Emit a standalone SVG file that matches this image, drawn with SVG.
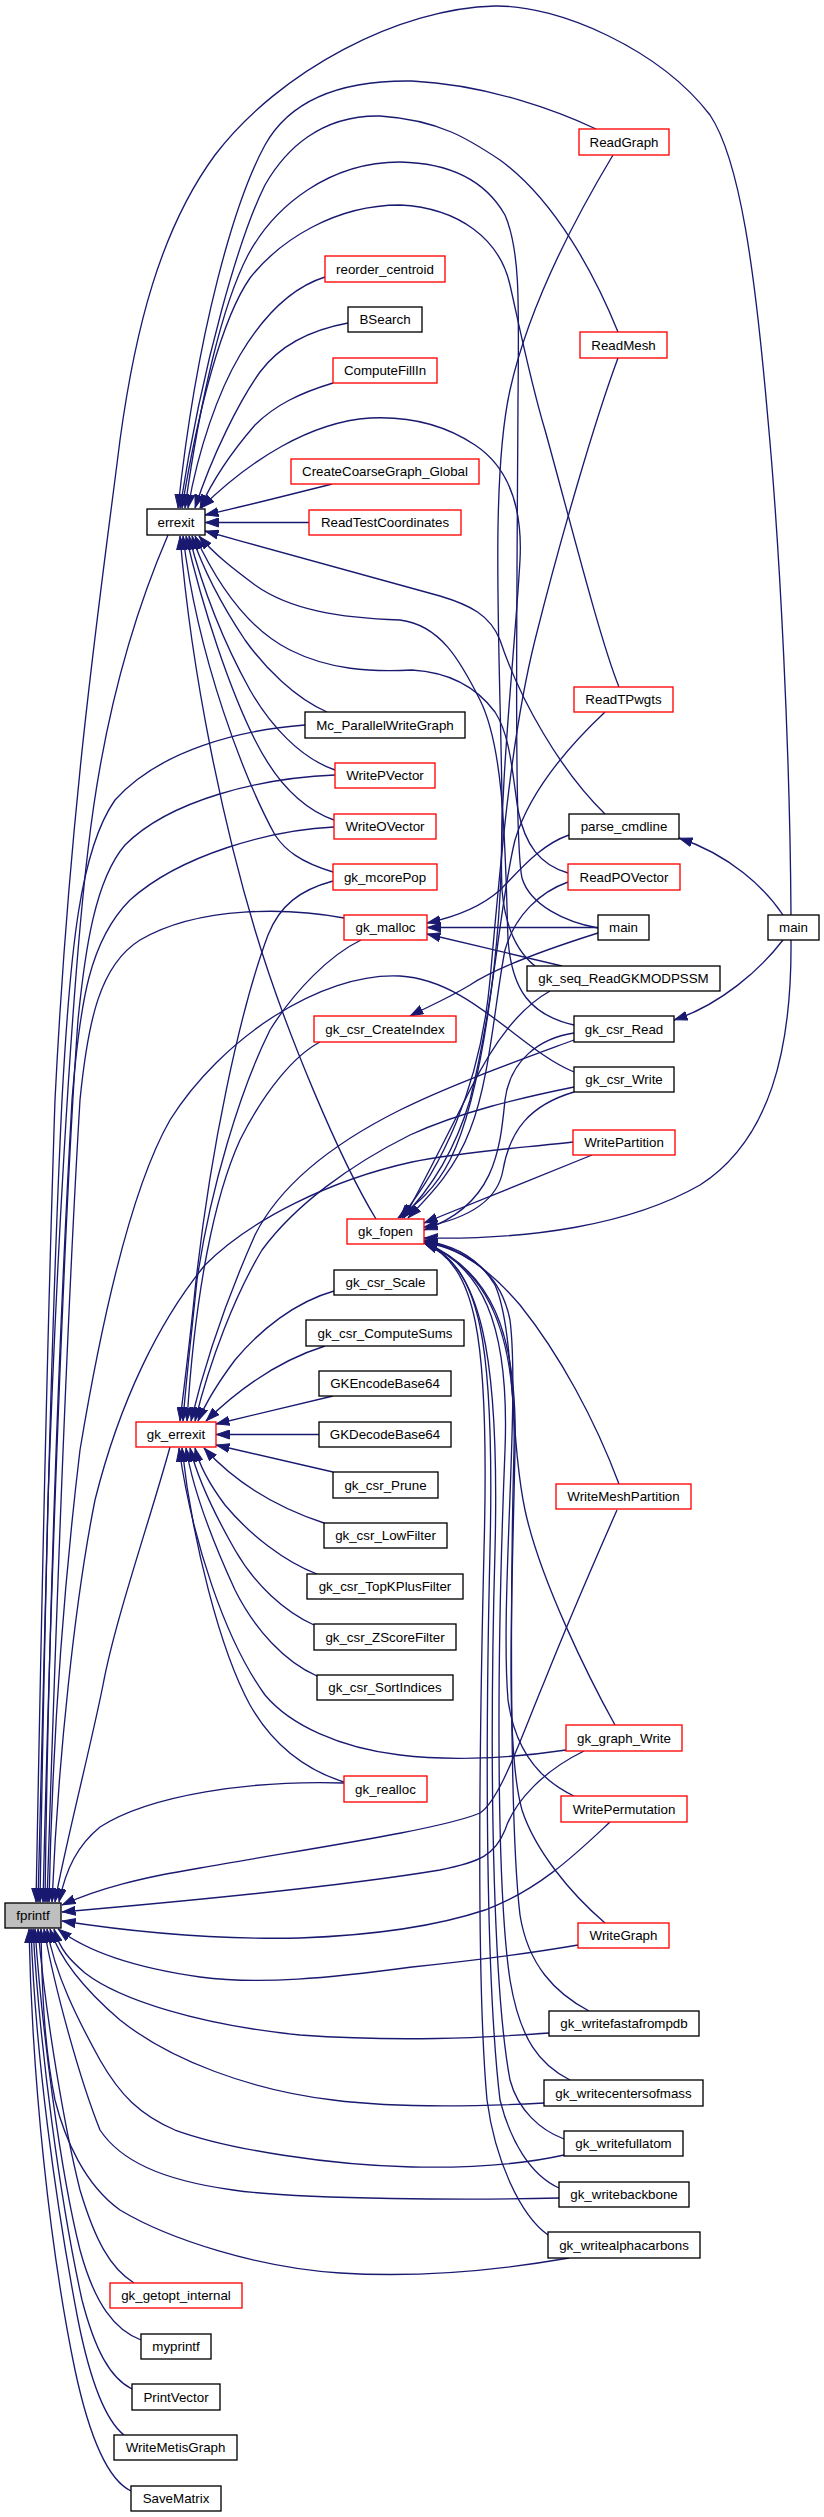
<svg xmlns="http://www.w3.org/2000/svg" width="824" height="2517" viewBox="0 0 824 2517">
<style>
.n rect{fill:#fff;stroke:#000;stroke-width:1.33}
.n.r rect{stroke:#f00}
.n text{font-family:"Liberation Sans",Arial,Helvetica,sans-serif;font-size:13.33px;text-anchor:middle;fill:#000}
#edges path{fill:none;stroke:#191970;stroke-width:1.33;marker-end:url(#arr)}
</style>
<defs>
<marker id="arr" viewBox="0 0 14 10" markerWidth="14" markerHeight="10" refX="13.5" refY="5" orient="auto" markerUnits="userSpaceOnUse">
<path d="M0,0.5 L13,5 L0,9.5 z" fill="#191970" stroke="#191970" stroke-width="1"/>
</marker>
</defs>
<rect width="824" height="2517" fill="#fff"/>
<g id="edges">
<path d="M309,522.5 L205,522.5"/>
<path d="M332,484 C300,492 250,505 205,515"/>
<path d="M333,383 C300,393 275,405 255,425 C235,448 215,475 200,508"/>
<path d="M348,323 C310,330 280,345 260,372 C240,400 212,455 195,508"/>
<path d="M325,277 C290,288 262,318 240,355 C218,392 198,450 188,508"/>
<path d="M619,687 C600,640 570,520 545,430 C530,380 518,320 510,285 C500,240 460,208 400,205 C335,205 280,240 250,278 C222,318 198,410 182,508"/>
<path d="M596,129 C560,112 490,85 412,81 C340,80 290,100 265,145 C235,200 197,330 178,508"/>
<path d="M618,332 C595,275 555,200 500,160 C470,140 440,120 380,116 C320,115 285,150 265,185 C240,235 203,360 180,508"/>
<path d="M598,928 C565,922 530,905 522,878 C514,840 517,600 518,400 C519,300 520,250 505,215 C485,180 450,163 400,162 C330,162 275,205 248,255 C222,305 200,400 185,508"/>
<path d="M535,966 C515,950 505,925 502,890 C498,800 515,650 520,560 C523,500 505,465 475,445 C445,425 410,416 370,418 C310,422 250,460 201,508"/>
<path d="M605,814 C560,770 520,700 500,640 C490,615 470,605 440,596 C380,580 290,555 205,531"/>
<path d="M574,1025 C530,1015 512,990 508,940 C505,850 505,750 480,700 C460,660 440,625 400,620 C340,618 290,610 255,585 C235,570 215,555 199,536"/>
<path d="M568,873 C540,865 525,845 518,810 C512,770 510,735 495,712 C475,685 445,672 412,670 C370,672 330,670 290,650 C250,630 220,590 195,536"/>
<path d="M327,712 C295,698 265,668 245,640 C225,610 205,575 192,536"/>
<path d="M335,770 C300,758 270,725 250,690 C225,645 203,590 189,536"/>
<path d="M334,820 C300,808 275,780 255,740 C230,690 203,610 186,536"/>
<path d="M333,872 C300,862 285,850 275,835 C245,780 198,660 183,536"/>
<path d="M376,1219 C340,1160 285,1030 255,930 C225,830 192,680 180,536"/>
<path d="M168,535 C140,600 105,700 88,850 C70,1000 55,1300 48,1500 C43,1650 40,1800 38,1902"/>
<path d="M791,915 C790,750 780,550 768,420 C755,270 740,160 710,115 C660,50 560,5 495,6 C400,8 280,70 215,155 C160,230 135,330 120,440 C100,600 70,800 55,1100 C45,1400 40,1700 36,1902"/>
<path d="M305,725 C240,730 160,750 115,800 C80,850 70,950 62,1100 C50,1350 44,1650 40,1902"/>
<path d="M335,775 C260,778 170,800 125,845 C95,880 85,950 78,1020 C65,1200 50,1600 43,1902"/>
<path d="M334,827 C270,830 180,855 130,900 C90,940 80,1000 72,1100 C58,1350 48,1650 45,1902"/>
<path d="M344,918 C290,908 200,905 140,940 C100,965 88,1020 80,1100 C68,1300 55,1650 47,1902"/>
<path d="M574,1072 C520,1050 470,980 400,976 C320,972 220,1040 170,1120 C130,1190 100,1330 80,1450 C62,1600 52,1760 49,1902"/>
<path d="M573,1142 C520,1148 460,1152 412,1162 C330,1180 250,1220 205,1265 C160,1320 120,1400 95,1500 C75,1600 58,1760 52,1902"/>
<path d="M170,1447 C150,1520 115,1620 103,1685 C90,1750 64,1850 55,1902"/>
<path d="M344,1783 C250,1780 150,1795 100,1827 C78,1845 66,1868 59,1902"/>
<path d="M617,1510 C595,1560 565,1630 545,1680 C520,1740 500,1800 480,1813 C440,1830 300,1850 200,1868 C140,1878 100,1888 62,1905"/>
<path d="M584,1751 C545,1770 515,1800 505,1830 C495,1855 480,1862 440,1870 C350,1885 200,1900 62,1912"/>
<path d="M610,1822 C580,1850 540,1890 485,1910 C440,1925 380,1935 300,1938 C200,1940 120,1930 62,1921"/>
<path d="M578,1945 C520,1955 460,1962 412,1967 C330,1978 260,1985 200,1977 C130,1967 85,1950 58,1929"/>
<path d="M549,2033 C480,2038 400,2042 300,2035 C200,2025 120,2000 85,1973 C70,1960 60,1950 54,1929"/>
<path d="M544,2103 C450,2108 380,2106 333,2100 C250,2090 170,2060 120,2020 C85,1990 60,1960 50,1929"/>
<path d="M564,2155 C520,2165 470,2168 412,2167 C330,2165 230,2150 175,2130 C140,2115 120,2095 100,2060 C78,2020 55,1975 47,1929"/>
<path d="M559,2198 C480,2200 300,2200 233,2190 C160,2180 120,2160 100,2130 C80,2080 55,1990 44,1929"/>
<path d="M569,2258 C500,2270 420,2278 340,2273 C260,2268 170,2240 120,2210 C85,2185 65,2140 55,2100 C45,2050 42,2000 41,1929"/>
<path d="M134,2283 C110,2268 95,2240 80,2190 C65,2130 46,2020 38,1929"/>
<path d="M141,2340 C115,2330 95,2305 80,2250 C60,2170 42,2030 35,1929"/>
<path d="M132,2389 C110,2378 95,2350 82,2300 C60,2200 40,2050 33,1929"/>
<path d="M124,2435 C105,2420 90,2380 78,2320 C55,2200 35,2050 31,1929"/>
<path d="M131,2491 C108,2480 90,2440 75,2370 C50,2250 32,2080 29,1929"/>
<path d="M334,1291 C295,1302 260,1330 235,1360 C220,1380 207,1400 198,1421"/>
<path d="M325,1346 C290,1357 250,1378 206,1421"/>
<path d="M333,1396 L216,1424"/>
<path d="M319,1434.5 L216,1434.5"/>
<path d="M333,1472 L216,1445"/>
<path d="M324,1523 C285,1510 240,1488 204,1448"/>
<path d="M317,1574 C285,1562 250,1535 225,1505 C210,1485 200,1468 195,1448"/>
<path d="M314,1625 C285,1612 255,1585 235,1550 C215,1515 198,1480 190,1448"/>
<path d="M317,1676 C285,1662 255,1630 235,1590 C212,1540 193,1490 186,1448"/>
<path d="M344,1782 C300,1768 270,1740 250,1705 C220,1650 192,1540 182,1448"/>
<path d="M566,1750 C500,1760 440,1760 400,1755 C340,1748 290,1725 265,1695 C225,1640 192,1540 179,1448"/>
<path d="M333,881 C300,890 280,905 268,935 C240,1010 210,1150 195,1290 C190,1340 185,1380 180,1421"/>
<path d="M361,940 C330,955 295,990 270,1030 C240,1090 210,1190 197,1280 C192,1330 186,1380 183,1421"/>
<path d="M320,1042 C295,1055 265,1090 240,1140 C215,1195 195,1290 187,1421"/>
<path d="M574,1040 C520,1060 450,1085 400,1110 C330,1145 280,1185 255,1235 C235,1280 208,1350 191,1421"/>
<path d="M574,1087 C520,1098 460,1112 410,1135 C350,1165 295,1205 262,1250 C235,1295 210,1360 195,1421"/>
<path d="M569,835 C540,845 520,870 500,890 C480,908 455,917 427,923"/>
<path d="M598,927.5 L427,927.5"/>
<path d="M562,966 L427,934"/>
<path d="M598,933 C560,945 500,965 470,985 C445,1000 425,1008 410,1016"/>
<path d="M783,915 C765,888 730,855 679,838"/>
<path d="M783,940 C760,970 720,1005 674,1020"/>
<path d="M791,940 C792,1050 770,1140 700,1185 C630,1225 530,1240 424,1238"/>
<path d="M592,1155 L424,1223"/>
<path d="M574,1092 C530,1105 510,1130 503,1170 C498,1200 470,1218 424,1227"/>
<path d="M574,1033 C540,1038 510,1060 505,1100 C500,1150 495,1205 424,1230"/>
<path d="M550,991 C520,1008 495,1040 470,1090 C445,1140 425,1180 404,1218"/>
<path d="M568,882 C540,892 515,915 505,950 C495,1000 490,1080 470,1130 C455,1170 430,1195 408,1218"/>
<path d="M605,712 C570,745 530,790 515,840 C500,900 495,1000 470,1100 C455,1150 430,1190 402,1218"/>
<path d="M618,358 C595,420 560,540 535,640 C510,740 500,870 490,980 C480,1090 440,1170 400,1218"/>
<path d="M613,155 C580,210 530,300 510,390 C490,480 500,650 502,800 C504,950 480,1100 450,1160 C435,1190 415,1205 398,1218"/>
<path d="M619,1484 C595,1420 560,1355 520,1305 C490,1270 460,1248 424,1240"/>
<path d="M615,1725 C590,1680 540,1580 525,1510 C510,1440 515,1330 495,1285 C480,1260 455,1245 424,1241"/>
<path d="M574,1796 C540,1780 515,1750 508,1700 C500,1600 520,1400 510,1320 C500,1270 465,1250 424,1242"/>
<path d="M605,1923 C570,1893 535,1850 522,1810 C505,1750 512,1600 515,1450 C518,1330 490,1270 424,1242"/>
<path d="M589,2011 C555,1993 528,1965 520,1915 C510,1830 510,1600 514,1450 C517,1320 480,1265 424,1243"/>
<path d="M570,2080 C540,2065 520,2040 510,1980 C498,1900 495,1700 505,1450 C510,1320 480,1265 424,1243"/>
<path d="M564,2139 C540,2130 518,2110 510,2080 C495,2000 488,1800 495,1550 C500,1350 480,1265 424,1243"/>
<path d="M559,2188 C530,2175 510,2140 500,2100 C488,2000 484,1800 490,1550 C495,1340 480,1265 424,1243"/>
<path d="M548,2235 C520,2215 495,2160 487,2100 C478,2000 478,1800 484,1550 C490,1330 475,1265 424,1243"/>
</g>
<g id="node_fprintf" class="n"><rect x="5" y="1903" width="56" height="25" style="fill:#bfbfbf"/><text x="33" y="1920.2">fprintf</text></g>
<g id="node_errexit" class="n"><rect x="147" y="509" width="58" height="26"/><text x="176" y="526.7">errexit</text></g>
<g id="node_gk_errexit" class="n r"><rect x="136" y="1422" width="80" height="25"/><text x="176" y="1439.2">gk_errexit</text></g>
<g id="node_gk_getopt_internal" class="n r"><rect x="110" y="2283" width="132" height="25"/><text x="176" y="2300.2">gk_getopt_internal</text></g>
<g id="node_myprintf" class="n"><rect x="141" y="2334" width="70" height="25"/><text x="176" y="2351.2">myprintf</text></g>
<g id="node_PrintVector" class="n"><rect x="132" y="2384" width="88" height="26"/><text x="176" y="2401.7">PrintVector</text></g>
<g id="node_WriteMetisGraph" class="n"><rect x="114" y="2435" width="123" height="25"/><text x="175.5" y="2452.2">WriteMetisGraph</text></g>
<g id="node_SaveMatrix" class="n"><rect x="131" y="2486" width="90" height="25"/><text x="176" y="2503.2">SaveMatrix</text></g>
<g id="node_reorder_centroid" class="n r"><rect x="325" y="256" width="120" height="26"/><text x="385" y="273.7">reorder_centroid</text></g>
<g id="node_BSearch" class="n"><rect x="348" y="307" width="74" height="25"/><text x="385" y="324.2">BSearch</text></g>
<g id="node_ComputeFillIn" class="n r"><rect x="333" y="358" width="104" height="25"/><text x="385" y="375.2">ComputeFillIn</text></g>
<g id="node_CreateCoarseGraph_Global" class="n r"><rect x="291" y="459" width="188" height="25"/><text x="385" y="476.2">CreateCoarseGraph_Global</text></g>
<g id="node_ReadTestCoordinates" class="n r"><rect x="309" y="510" width="152" height="25"/><text x="385" y="527.2">ReadTestCoordinates</text></g>
<g id="node_Mc_ParallelWriteGraph" class="n"><rect x="305" y="712" width="160" height="26"/><text x="385" y="729.7">Mc_ParallelWriteGraph</text></g>
<g id="node_WritePVector" class="n r"><rect x="335" y="763" width="100" height="25"/><text x="385" y="780.2">WritePVector</text></g>
<g id="node_WriteOVector" class="n r"><rect x="334" y="814" width="102" height="25"/><text x="385" y="831.2">WriteOVector</text></g>
<g id="node_gk_mcorePop" class="n r"><rect x="333" y="864" width="104" height="26"/><text x="385" y="881.7">gk_mcorePop</text></g>
<g id="node_gk_malloc" class="n r"><rect x="344" y="915" width="83" height="25"/><text x="385.5" y="932.2">gk_malloc</text></g>
<g id="node_gk_csr_CreateIndex" class="n r"><rect x="314" y="1016" width="142" height="26"/><text x="385" y="1033.7">gk_csr_CreateIndex</text></g>
<g id="node_gk_fopen" class="n r"><rect x="347" y="1219" width="77" height="25"/><text x="385.5" y="1236.2">gk_fopen</text></g>
<g id="node_gk_csr_Scale" class="n"><rect x="334" y="1270" width="103" height="25"/><text x="385.5" y="1287.2">gk_csr_Scale</text></g>
<g id="node_gk_csr_ComputeSums" class="n"><rect x="306" y="1320" width="158" height="26"/><text x="385" y="1337.7">gk_csr_ComputeSums</text></g>
<g id="node_GKEncodeBase64" class="n"><rect x="319" y="1371" width="132" height="25"/><text x="385" y="1388.2">GKEncodeBase64</text></g>
<g id="node_GKDecodeBase64" class="n"><rect x="319" y="1422" width="132" height="25"/><text x="385" y="1439.2">GKDecodeBase64</text></g>
<g id="node_gk_csr_Prune" class="n"><rect x="333" y="1472" width="105" height="26"/><text x="385.5" y="1489.7">gk_csr_Prune</text></g>
<g id="node_gk_csr_LowFilter" class="n"><rect x="324" y="1523" width="123" height="25"/><text x="385.5" y="1540.2">gk_csr_LowFilter</text></g>
<g id="node_gk_csr_TopKPlusFilter" class="n"><rect x="307" y="1574" width="156" height="25"/><text x="385" y="1591.2">gk_csr_TopKPlusFilter</text></g>
<g id="node_gk_csr_ZScoreFilter" class="n"><rect x="314" y="1624" width="142" height="26"/><text x="385" y="1641.7">gk_csr_ZScoreFilter</text></g>
<g id="node_gk_csr_SortIndices" class="n"><rect x="317" y="1675" width="136" height="25"/><text x="385" y="1692.2">gk_csr_SortIndices</text></g>
<g id="node_gk_realloc" class="n r"><rect x="344" y="1776" width="83" height="26"/><text x="385.5" y="1793.7">gk_realloc</text></g>
<g id="node_ReadGraph" class="n r"><rect x="579" y="129" width="90" height="26"/><text x="624" y="146.7">ReadGraph</text></g>
<g id="node_ReadMesh" class="n r"><rect x="580" y="332" width="87" height="26"/><text x="623.5" y="349.7">ReadMesh</text></g>
<g id="node_ReadTPwgts" class="n r"><rect x="574" y="687" width="99" height="25"/><text x="623.5" y="704.2">ReadTPwgts</text></g>
<g id="node_parse_cmdline" class="n"><rect x="569" y="814" width="110" height="25"/><text x="624" y="831.2">parse_cmdline</text></g>
<g id="node_ReadPOVector" class="n r"><rect x="568" y="864" width="112" height="26"/><text x="624" y="881.7">ReadPOVector</text></g>
<g id="node_main_a" class="n"><rect x="598" y="915" width="51" height="25"/><text x="623.5" y="932.2">main</text></g>
<g id="node_gk_seq_ReadGKMODPSSM" class="n"><rect x="527" y="966" width="193" height="25"/><text x="623.5" y="983.2">gk_seq_ReadGKMODPSSM</text></g>
<g id="node_gk_csr_Read" class="n"><rect x="574" y="1016" width="100" height="26"/><text x="624" y="1033.7">gk_csr_Read</text></g>
<g id="node_gk_csr_Write" class="n"><rect x="574" y="1067" width="100" height="25"/><text x="624" y="1084.2">gk_csr_Write</text></g>
<g id="node_WritePartition" class="n r"><rect x="573" y="1130" width="102" height="25"/><text x="624" y="1147.2">WritePartition</text></g>
<g id="node_WriteMeshPartition" class="n r"><rect x="556" y="1484" width="135" height="25"/><text x="623.5" y="1501.2">WriteMeshPartition</text></g>
<g id="node_gk_graph_Write" class="n r"><rect x="566" y="1725" width="116" height="26"/><text x="624" y="1742.7">gk_graph_Write</text></g>
<g id="node_WritePermutation" class="n r"><rect x="561" y="1796" width="126" height="26"/><text x="624" y="1813.7">WritePermutation</text></g>
<g id="node_WriteGraph" class="n r"><rect x="578" y="1923" width="91" height="25"/><text x="623.5" y="1940.2">WriteGraph</text></g>
<g id="node_gk_writefastafrompdb" class="n"><rect x="549" y="2011" width="150" height="25"/><text x="624" y="2028.2">gk_writefastafrompdb</text></g>
<g id="node_gk_writecentersofmass" class="n"><rect x="544" y="2080" width="159" height="26"/><text x="623.5" y="2097.7">gk_writecentersofmass</text></g>
<g id="node_gk_writefullatom" class="n"><rect x="564" y="2131" width="119" height="25"/><text x="623.5" y="2148.2">gk_writefullatom</text></g>
<g id="node_gk_writebackbone" class="n"><rect x="559" y="2182" width="130" height="25"/><text x="624" y="2199.2">gk_writebackbone</text></g>
<g id="node_gk_writealphacarbons" class="n"><rect x="548" y="2232" width="152" height="26"/><text x="624" y="2249.7">gk_writealphacarbons</text></g>
<g id="node_main_b" class="n"><rect x="768" y="915" width="51" height="25"/><text x="793.5" y="932.2">main</text></g>
</svg>
